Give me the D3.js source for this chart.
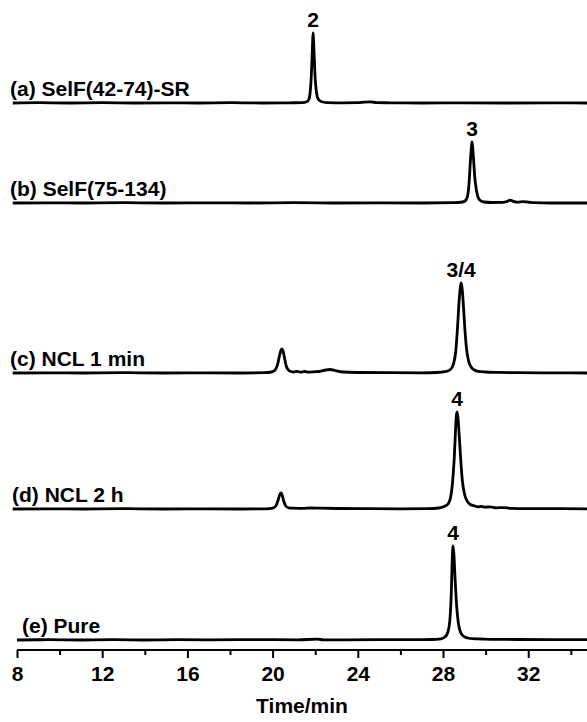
<!DOCTYPE html>
<html>
<head>
<meta charset="utf-8">
<script src="https://cdn.jsdelivr.net/npm/d3@7"></script>
<style>
  html, body { margin: 0; padding: 0; background: #fff; }
  svg { display: block; }
  text { font-family: "Liberation Sans", Arial, sans-serif; font-weight: bold; fill: #000; }
</style>
</head>
<body>
<svg id="chart" width="587" height="722"></svg>
<script>
// HPLC traces: [retention time (min), absorbance above baseline (a.u.)]
const traceA = [[7.8,0],[9,0.3],[10.5,0],[12,0.3],[13.5,0],[15,0.2],[16.5,0],[18,0.3],[19.5,0],[20.8,0.2],[21.4,0.4],[21.6,1.2],[21.7,3.5],[21.76,10],[21.81,24],[21.85,44],[21.88,62],[21.9,70],[21.92,64],[21.95,48],[21.99,28],[22.04,14],[22.1,6],[22.2,2.5],[22.35,1],[22.6,0.4],[23.3,0.2],[24.0,0.3],[24.3,0.8],[24.6,1.1],[24.9,0.4],[25.5,0.2],[27,0],[29,0.2],[31,0],[33,0.2],[34.8,0]];
const traceB = [[7.8,0],[9.5,0.2],[11,0],[13,0.3],[15,0],[17,0.2],[19,0],[21,0.3],[23,0],[25,0.2],[27,0],[28.5,0.3],[28.92,1],[29.08,3],[29.17,9],[29.23,22],[29.28,40],[29.33,55],[29.36,61],[29.39,56],[29.44,42],[29.49,26],[29.56,14],[29.64,6],[29.75,2.5],[29.93,1],[30.3,0.5],[30.8,0.6],[31.0,1.5],[31.15,2.8],[31.3,1.6],[31.5,0.8],[31.75,1.3],[31.95,1],[32.3,0.3],[33,0],[34.8,0]];
const traceC = [[7.8,0],[9.5,0.2],[11,0],[13,0.3],[15,0],[17,0.2],[18.5,0],[19.6,0.3],[19.95,1],[20.12,3],[20.24,9],[20.33,18],[20.4,23],[20.44,24],[20.49,22],[20.56,15],[20.64,7],[20.74,3],[20.85,1.5],[21.0,1],[21.15,1.6],[21.3,0.9],[21.5,1.5],[21.7,0.8],[21.95,1.2],[22.2,1.5],[22.5,3],[22.7,3.5],[22.95,2.4],[23.3,1],[24,0.5],[25.5,0.3],[27,0.2],[27.7,0.5],[28.1,1.3],[28.35,3.5],[28.49,9],[28.6,22],[28.68,45],[28.75,70],[28.81,85],[28.85,90],[28.89,86],[28.95,70],[29.02,46],[29.1,25],[29.2,12],[29.32,6],[29.47,3],[29.65,1.6],[30,1],[30.6,0.6],[31.5,0.3],[33,0.2],[34.8,0]];
const traceD = [[7.8,0],[9.5,0.2],[11,0],[13,0.3],[15,0],[17,0.2],[18.5,0],[19.7,0.2],[20.0,0.8],[20.15,3],[20.26,9],[20.34,14.5],[20.39,16],[20.44,14.5],[20.52,8],[20.62,3],[20.75,1.2],[21,0.8],[21.4,0.6],[21.8,1],[22.3,0.8],[23,0.5],[24.5,0.3],[26,0.2],[27.3,0.4],[27.8,1],[28.05,2.5],[28.23,5],[28.35,11],[28.44,25],[28.52,48],[28.58,75],[28.62,92],[28.66,97],[28.7,92],[28.76,74],[28.83,50],[28.91,28],[29.01,15],[29.13,8],[29.28,4.5],[29.49,3],[29.65,2.2],[29.8,2.6],[29.97,1.8],[30.2,2.2],[30.5,1.2],[30.8,1.4],[31.2,0.7],[32,0.4],[33.5,0.3],[34.8,0.2]];
const traceE = [[8,0],[9.5,0.3],[11,0],[12.5,0.3],[14,0],[15.5,0.3],[17,0.2],[18.5,0.4],[20,0.3],[21.2,0.2],[22.1,0.8],[22.4,0.2],[23.5,0.2],[25,0.3],[26.5,0.4],[27.5,0.5],[27.9,1.2],[28.09,3],[28.23,8],[28.33,22],[28.39,48],[28.43,78],[28.47,94],[28.51,86],[28.57,60],[28.64,34],[28.72,17],[28.82,8],[28.95,4],[29.17,2],[29.4,1.3],[29.8,1],[30.5,0.6],[31.5,0.5],[33,0.4],[34.8,0.3]];

const traces = [traceA, traceB, traceC, traceD, traceE];
const traceNames = ["(a) SelF(42-74)-SR", "(b) SelF(75-134)", "(c) NCL 1 min", "(d) NCL 2 h", "(e) Pure"];
const traceOffsets = [537, 437, 267, 131, 0];   // vertical stacking offsets (a.u.)
const labelIndent = [10, 10, 10, 12, 22];         // name label left edge (px)

// peak annotations: trace index, retention time, peak height, label
const peakTrace = [0, 1, 2, 3, 4];
const peakTime = [21.9, 29.36, 28.85, 28.66, 28.47];
const peakHeight = [70, 61, 90, 97, 94];
const peakText = ["2", "3", "3/4", "4", "4"];

const xTicks = [8, 12, 16, 20, 24, 28, 32];
const xMinorTicks = [10, 14, 18, 22, 26, 30, 34];
const xTitle = "Time/min";

const svg = d3.select("#chart");
const axisY = 650;

const x = d3.scaleLinear().domain([8, 34.76]).range([17, 587]);
const y = d3.scaleLinear().domain([0, 640]).range([640, 0]);

const line = (off) => d3.line()
  .x(d => x(d[0]))
  .y(d => y(d[1] + off))
  .curve(d3.curveMonotoneX);

// chromatogram traces
svg.append("g").selectAll("path")
  .data(traces)
  .join("path")
  .attr("d", (d, i) => line(traceOffsets[i])(d))
  .attr("fill", "none")
  .attr("stroke", "#000")
  .attr("stroke-width", 2.8)
  .attr("stroke-linejoin", "round");

// trace names, sitting just above each baseline
svg.append("g").selectAll("text")
  .data(traceNames)
  .join("text")
  .attr("x", (d, i) => labelIndent[i])
  .attr("y", (d, i) => y(traceOffsets[i]) - 7)
  .attr("font-size", 21)
  .text(d => d);

// peak labels
svg.append("g").selectAll("text")
  .data(peakText)
  .join("text")
  .attr("x", (d, i) => x(peakTime[i]))
  .attr("y", (d, i) => y(traceOffsets[peakTrace[i]] + peakHeight[i]) - 6)
  .attr("text-anchor", "middle")
  .attr("font-size", 21)
  .text(d => d);

// x axis
const axis = d3.axisBottom(x).tickValues(xTicks).tickSize(8).tickPadding(8).tickFormat(d3.format("d"));
const gAxis = svg.append("g").attr("transform", `translate(0,${axisY})`).call(axis);
gAxis.select(".domain").attr("stroke", "#000").attr("stroke-width", 2).attr("d", `M${x(8)},0H587`);
gAxis.selectAll(".tick line").attr("stroke", "#000").attr("stroke-width", 2);
gAxis.selectAll(".tick text").attr("font-size", 21).attr("font-family", "Liberation Sans, Arial, sans-serif").attr("font-weight", "bold").attr("fill", "#000");

const minor = d3.axisBottom(x).tickValues(xMinorTicks).tickSize(5).tickFormat("");
const gMinor = svg.append("g").attr("transform", `translate(0,${axisY})`).call(minor);
gMinor.select(".domain").remove();
gMinor.selectAll(".tick line").attr("stroke", "#000").attr("stroke-width", 2);

svg.append("text")
  .attr("x", (x(8) + 587) / 2)
  .attr("y", 713)
  .attr("text-anchor", "middle")
  .attr("font-size", 21)
  .text(xTitle);
</script>
</body>
</html>
